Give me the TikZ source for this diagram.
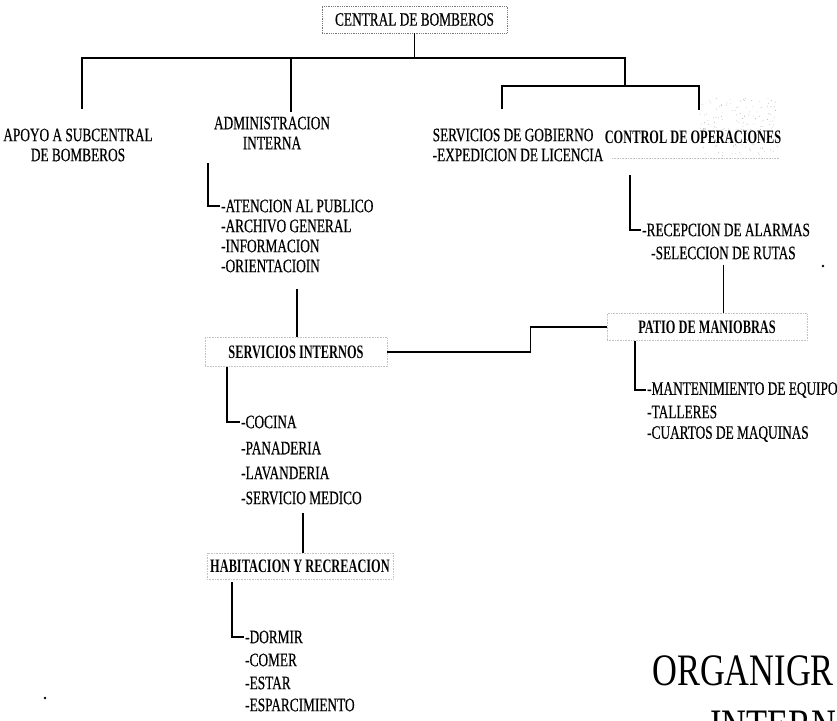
\documentclass[tikz,border=0pt]{standalone}
\usepackage{fontspec}
\setmainfont[FakeStretch=0.70,FakeBold=0.4]{Liberation Serif}
\newfontfamily\headfont[FakeStretch=0.65]{Liberation Serif Bold}
\newfontfamily\titlefont[FakeStretch=0.765]{Liberation Serif}
\usepackage{tikz}
\definecolor{scanGray}{RGB}{120,120,120}
\definecolor{faintGray}{RGB}{195,195,195}
\tikzset{
  lbl/.style={font=\fontsize{19}{20}\selectfont, inner sep=1pt},
  item/.style={lbl, anchor=west},
  headbox/.style={lbl, font=\headfont\fontsize{19}{20}\selectfont, draw=faintGray, densely dotted, line width=0.6pt},
  link/.style={line width=1.6pt, black},
}

\begin{document}
\begin{tikzpicture}[x=1pt,y=-1pt]
\useasboundingbox (0,0) rectangle (837,720);
\clip (0,0) rectangle (837,720);

% top level
\node[lbl, draw=scanGray, densely dotted, line width=0.8pt, minimum width=185pt, minimum height=27pt] (central) at (414.5,19.5) {CENTRAL DE BOMBEROS};
\coordinate (bus) at (414.5,58);
\coordinate (brk) at (625,86);

\node[lbl, align=center] (apoyo) at (78,145) {APOYO A SUBCENTRAL\\DE BOMBEROS};
\node[lbl, align=center, minimum width=130pt] (admin) at (272,133) {ADMINISTRACION\\INTERNA};
\node[lbl, align=left] (gob) at (518,145) {SERVICIOS DE GOBIERNO\\-EXPEDICION DE LICENCIA};

% speckled patch behind control
\pgfmathsetseed{3}
\foreach \k in {1,...,170}
  \fill[black!30] ({700+78*rnd},{98+58*rnd}) circle (0.45);
\draw[faintGray, densely dotted, line width=0.6pt] (612,158) -- (780,158);
\node[lbl, headbox, draw=none] (ctrl) at (693,137) {CONTROL DE OPERACIONES};

\draw[link] (central.south) -- (bus);
\draw[link] ([xshift=4pt,yshift=18pt]apoyo.north) |- (bus) -| (brk);
\draw[link] ([xshift=19pt,yshift=4pt]admin.north) |- (bus);
\draw[link] ([xshift=-16pt,yshift=18pt]gob.north) |- (brk) -| ([xshift=6pt,yshift=19pt]ctrl.north);

% administracion interna
\node[item] (at1) at (220,206) {-ATENCION AL PUBLICO};
\node[item] (at2) at (220,226) {-ARCHIVO GENERAL};
\node[item] (at3) at (220,246) {-INFORMACION};
\node[item] (at4) at (220,266) {-ORIENTACIOIN};
\draw[link] (at1.west) -| ++(-12,-43);

\node[headbox, minimum width=182pt, minimum height=29pt] (sint) at (296,352) {SERVICIOS INTERNOS};
\draw[link] ([xshift=1pt]sint.north) -- ++(0,-48);

\node[item] (coc1) at (240,422) {-COCINA};
\node[item] (coc2) at (240,448) {-PANADERIA};
\node[item] (coc3) at (240,473) {-LAVANDERIA};
\node[item] (coc4) at (240,498) {-SERVICIO MEDICO};
\draw[link] (coc1.west) -| ++(-13,-55);

\node[headbox, minimum width=186pt, minimum height=26pt] (hab) at (300,566) {HABITACION Y RECREACION};
\draw[link] ([xshift=3pt]hab.north) -- ++(0,-40);

\node[item] (dor1) at (244,637) {-DORMIR};
\node[item] (dor2) at (244,660) {-COMER};
\node[item] (dor3) at (244,683) {-ESTAR};
\node[item] (dor4) at (244,705) {-ESPARCIMIENTO};
\draw[link] (dor1.west) -| ++(-12,-55);

% control de operaciones
\node[item] (rec1) at (641,230) {-RECEPCION DE ALARMAS};
\node[item] (rec2) at (650,253) {-SELECCION DE RUTAS};
\draw[link] (rec1.west) -| ++(-11,-55);

\node[headbox, minimum width=200pt, minimum height=27pt] (patio) at (707,327) {PATIO DE MANIOBRAS};
\draw[link] ([yshift=-4pt]rec2.south) -- (rec2.south |- patio.north);
\draw[link] (sint.east) -- ++(143,0) |- (patio.west);

\node[item] (man1) at (646,390) {-MANTENIMIENTO DE EQUIPO};
\node[item] (man2) at (646,412) {-TALLERES};
\node[item] (man3) at (646,434) {-CUARTOS DE MAQUINAS};
\draw[link] (man1.west) -| ++(-11,-49);

% specks
\fill (823,266) circle (1.3);
\fill (45,698) circle (1.3);

% title
\node[anchor=base west, inner sep=0, font=\titlefont\fontsize{45}{50}\selectfont] (title1) at (652,685) {ORGANIGR};
\node[anchor=base west, inner sep=0, font=\titlefont\fontsize{45}{50}\selectfont] (title2) at (710,740) {INTERN};
\end{tikzpicture}
\end{document}
